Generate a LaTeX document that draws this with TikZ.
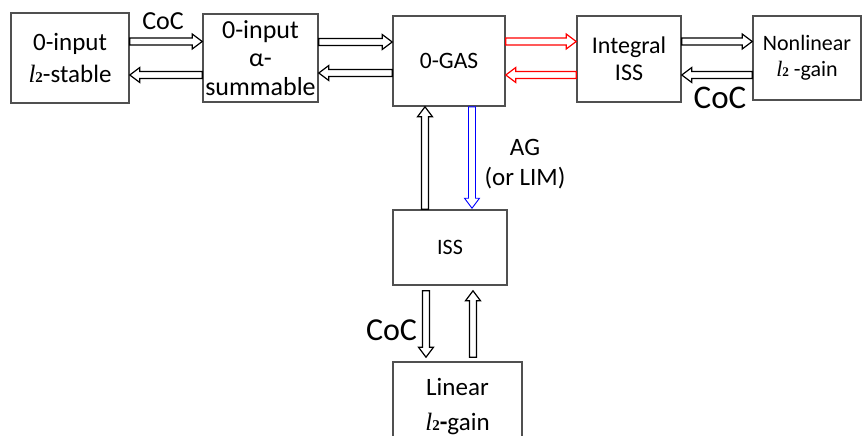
\documentclass[tikz,border=0pt]{standalone}
\usepackage{fontspec}
\setmainfont{Carlito}
\newfontfamily\serifl{Liberation Serif}
\newcommand{\ltwo}{{\serifl\itshape l}\scalebox{0.6}{\serifl\bfseries 2}}
\usetikzlibrary{calc}

\begin{document}
\begin{tikzpicture}[x=1pt,y=-1pt,line join=miter,
  box/.style={draw=boxc,line width=1.6pt,align=center,inner sep=0pt},
  blk/.style={fill=white,line width=1.2pt,to path={
    ($(\tikztostart)!3.5pt!90:(\tikztotarget)$)
    -- ($(\tikztotarget)!10pt!(\tikztostart)!3.5pt!-90:(\tikztostart)$)
    -- ($(\tikztotarget)!10pt!(\tikztostart)!7.5pt!-90:(\tikztostart)$)
    -- (\tikztotarget)
    -- ($(\tikztotarget)!10pt!(\tikztostart)!7.5pt!90:(\tikztostart)$)
    -- ($(\tikztotarget)!10pt!(\tikztostart)!3.5pt!90:(\tikztostart)$)
    -- ($(\tikztostart)!3.5pt!-90:(\tikztotarget)$) -- cycle}},
  redblk/.style={blk,draw=red},
  blueblk/.style={blk,draw=blue,line width=0.9pt},
  lab/.style={font=\fontsize{25}{30}\selectfont,align=center},
  biglab/.style={font=\fontsize{33}{36}\selectfont}]

  \definecolor{boxc}{RGB}{80,80,80}

  \useasboundingbox (0,0) rectangle (862,436);
  \clip (0,0) rectangle (862,436);

  % ---- top row ----
  \node[box,minimum width=118pt,minimum height=90pt,font=\fontsize{25}{32}\selectfont]
    (stable) at (70,58) {0-input\\\ltwo-stable};
  \node[box,minimum width=115pt,minimum height=88pt,font=\fontsize{26}{28.5}\selectfont]
    (summ) at (260.5,58) {0-input\\α-\\summable};
  \node[box,minimum width=112pt,minimum height=90pt,font=\fontsize{23.5}{28}\selectfont]
    (gas) at (449,61) {0-GAS};
  \node[box,minimum width=104pt,minimum height=86pt,font=\fontsize{24}{27}\selectfont]
    (integ) at (629,59) {Integral\\ISS};
  \node[box,minimum width=108pt,minimum height=84pt,font=\fontsize{22}{26}\selectfont]
    (nonlin) at (807,58) {Nonlinear\\\ltwo\ -gain};

  % ---- lower column ----
  \node[box,minimum width=114pt,minimum height=75pt,font=\fontsize{22}{26}\selectfont]
    (iss) at (450,247.5) {ISS};
  \node[box,minimum width=129pt,minimum height=90pt,font=\fontsize{25}{35}\selectfont]
    (lin) at (457.5,407) {Linear\\\ltwo{\bfseries-}gain};

  % ---- arrows along the top ----
  \draw[blk] ([yshift=16.5pt]stable.east) to ([yshift=16.5pt]summ.west);
  \draw[blk] ([yshift=-17pt]summ.west) to ([yshift=-17pt]stable.east);
  \draw[blk] ([yshift=16pt]summ.east) to ([yshift=19pt]gas.west);
  \draw[blk] ([yshift=-12pt]gas.west) to ([yshift=-15pt]summ.east);
  \draw[redblk] ([yshift=19.5pt]gas.east) to ([yshift=17.5pt]integ.west);
  \draw[redblk] ([yshift=-16pt]integ.west) to ([yshift=-14pt]gas.east);
  \draw[blk] ([yshift=17.5pt]integ.east) to ([yshift=16.5pt]nonlin.west);
  \draw[blk] ([yshift=-17pt]nonlin.west) to ([yshift=-16pt]integ.east);

  % ---- arrows down the middle ----
  \draw[blk] ([xshift=-25pt]iss.north) to ([xshift=-24pt]gas.south);
  \draw[blueblk] ([xshift=23pt]gas.south) to ([xshift=22pt,yshift=1pt]iss.north);
  \draw[blk] ([xshift=-24pt,yshift=-5pt]iss.south) to ([xshift=-31.5pt,yshift=4pt]lin.north);
  \draw[blk] ([xshift=15.5pt,yshift=4pt]lin.north) to ([xshift=23pt,yshift=-5pt]iss.south);

  % labels
  \node[font=\fontsize{26}{30}\selectfont] (coctop) at (163,21.5) {CoC};
  \node[biglab] (cocright) at (720,98) {CoC};
  \node[biglab,font=\fontsize{32}{36}\selectfont] (cocbottom) at (391.5,330) {CoC};
  \node[lab] (ag) at (525,164) {AG\\(or LIM)};
\end{tikzpicture}
\end{document}
